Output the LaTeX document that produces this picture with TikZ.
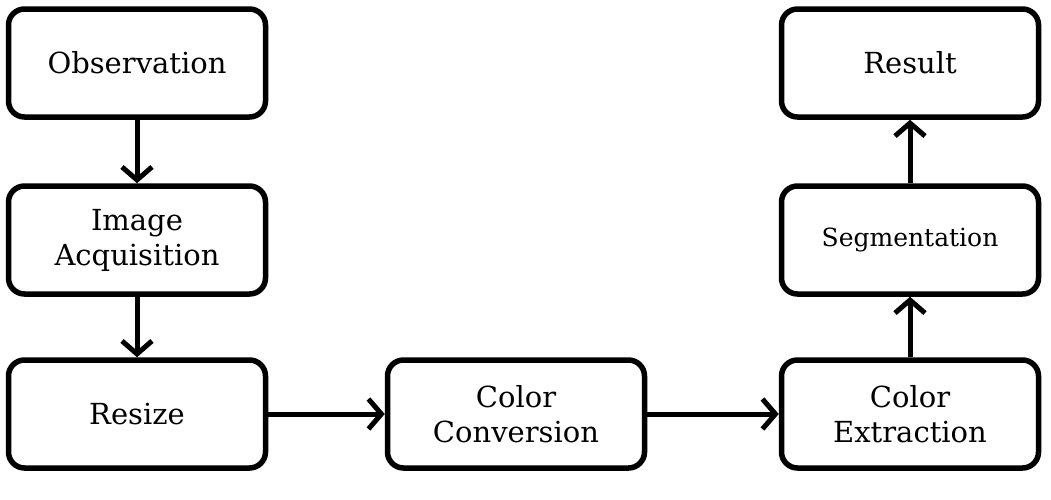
\documentclass[tikz,border=0pt]{standalone}
\usepackage{fontspec}
\setmainfont{DejaVu Serif}
\usetikzlibrary{arrows.meta, positioning}
\tikzset{
  stagebox/.style={draw, line width=5.5pt, rounded corners=16pt,
                   minimum width=257pt, minimum height=108pt, inner sep=0pt,
                   align=center, font=\fontsize{29}{35}\selectfont},
  flowarrow/.style={line width=5pt, -{Straight Barb[length=13pt,width=30pt]}}
}
\begin{document}
\begin{tikzpicture}[x=1pt,y=-1pt]
    \useasboundingbox (0,0) rectangle (1051,499);
    \node[stagebox] (obs)    at (137,63)  {Observation};
    \node[stagebox] (acq)    at (137,240) {Image\\Acquisition};
    \node[stagebox] (resize) at (137,414) {Resize};
    \node[stagebox] (conv)   at (516,414) {Color\\Conversion};
    \node[stagebox] (extr)   at (910,414) {Color\\Extraction};
    \node[stagebox, font=\fontsize{25}{30}\selectfont]
                    (seg)    at (910,240) {Segmentation};
    \node[stagebox] (result) at (910,63)  {Result};
    \draw[flowarrow] (obs) -- (acq);
    \draw[flowarrow] (acq) -- (resize);
    \draw[flowarrow] (resize) -- (conv);
    \draw[flowarrow] (conv) -- (extr);
    \draw[flowarrow] (extr) -- (seg);
    \draw[flowarrow] (seg) -- (result);
\end{tikzpicture}
\end{document}
